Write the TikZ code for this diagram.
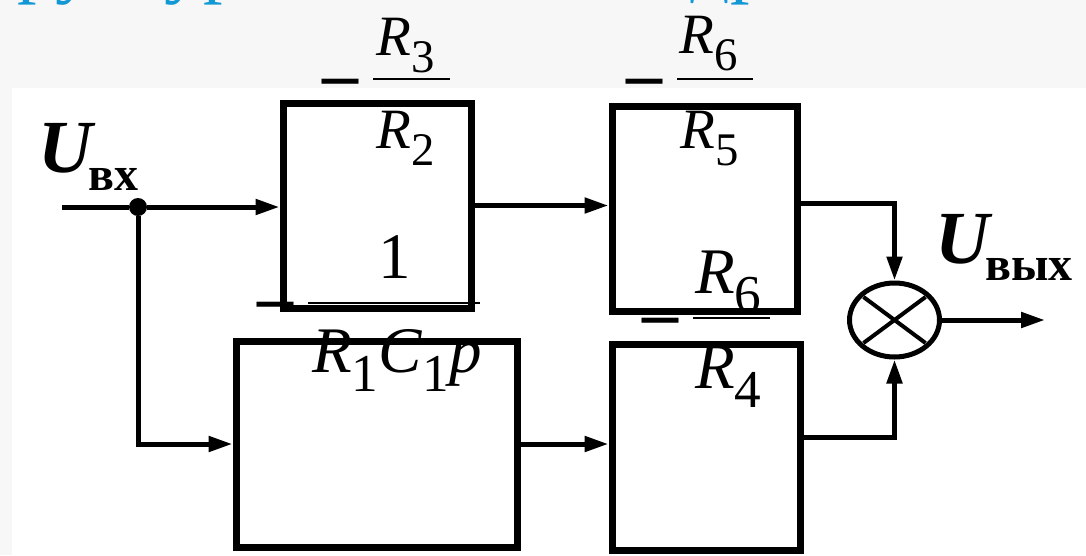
\documentclass[tikz,border=0pt]{standalone}
\usepackage{fontspec}
\setmainfont{Liberation Serif}
\usetikzlibrary{arrows.meta,shapes.geometric}
\tikzset{>={Triangle[length=24pt,width=15pt]}}
\definecolor{titleblue}{RGB}{18,152,213}

\newcommand\fs[1]{\fontsize{#1}{#1}\selectfont}
\newcommand\low[1]{\raisebox{-.3em}{\scalebox{.82}{#1}}}

\begin{document}
\begin{tikzpicture}[x=1pt,y=-1pt,
    block/.style={draw,line width=7pt,inner sep=0pt,minimum height=205pt},
    wire/.style={line width=5pt},
    lbl/.style={inner sep=0pt,anchor=base west},
    minus/.style={inner sep=0pt,anchor=base,font=\bfseries\fs{72}},
    bar/.style={line width=2pt}]

  % page
  \useasboundingbox (0,0) rectangle (1086,555);
  \clip (0,0) rectangle (1086,555);
  \fill[black!3] (0,0) rectangle (1086,555);
  \fill[white] (12,88) rectangle (1086,555);

  % title line (only its lower edge is on the page)
  \node[lbl,text=titleblue,font=\fs{78}] (title) at (-69,-12)
    {Структурная схема изодромного звена};

  % gains
  \node[minus] (mA) at (340,98) {–};
  \draw[bar] (373,79) -- (450,79);
  \node[lbl,font=\fs{57}] (r3) at (376,55) {\textit{R}\low{3}};
  \node[lbl,font=\fs{57}] (r2) at (376,148) {\textit{R}\low{2}};

  \node[minus] (mB) at (644,98) {–};
  \draw[bar] (677,79) -- (753,79);
  \node[lbl,font=\fs{57}] (r6a) at (679,53) {\textit{R}\low{6}};
  \node[lbl,font=\fs{57}] (r5) at (680,148) {\textit{R}\low{5}};

  \node[minus] (mC) at (275,321) {–};
  \draw[bar] (308,302.5) -- (480,302.5);
  \node[lbl,font=\fs{65}] (one) at (378,278) {1};
  \node[lbl,font=\fs{65}] (rc) at (312,372) {\textit{R}\low{1}\textit{C}\low{1}\textit{p}};

  \node[minus] (mD) at (660,337) {–};
  \draw[bar] (693,318) -- (770,318);
  \node[lbl,font=\fs{65}] (r6b) at (695,293) {\textit{R}\low{6}};
  \node[lbl,font=\fs{65}] (r4) at (695,388) {\textit{R}\low{4}};

  % signals
  \node[lbl,font=\bfseries\itshape\fs{75}] (uin) at (38,172) {U};
  \node[lbl,font=\bfseries\fs{48}] (uinsub) at (88,190) {вх};
  \node[lbl,font=\bfseries\itshape\fs{75}] (uout) at (935,263) {U};
  \node[lbl,font=\bfseries\fs{48}] (uoutsub) at (985,280) {вых};

  % blocks
  \node[block,minimum width=188pt] (prop) at (377,205.5) {};
  \node[block,minimum width=185pt] (gainA) at (704.5,208.5) {};
  \node[block,minimum width=281pt,minimum height=206pt] (integ) at (376.5,444) {};
  \node[block,minimum width=188pt,minimum height=206pt] (gainB) at (706,447) {};

  % summing junction
  \node[draw,ellipse,line width=5pt,inner sep=0pt,
        minimum width=90pt,minimum height=74pt] (sum) at (894.5,320) {};
  \draw[line width=4pt] ([shift={(-31,-23)}]sum.center) -- ([shift={(31,23)}]sum.center);
  \draw[line width=4pt] ([shift={(-31,23)}]sum.center) -- ([shift={(31,-23)}]sum.center);

  % wires
  \coordinate (in) at (62,207);
  \node[circle,fill,inner sep=0pt,minimum size=18pt] (tap) at (138,207) {};
  \draw[wire] (in) -- (tap);
  \draw[wire,->] (tap) -- (tap -| prop.west);
  \draw[wire,->] (tap) |- (integ.west);
  \draw[wire,->] (prop.east) -- (prop.east -| gainA.west);
  \draw[wire,->] (integ.east) -- (integ.east -| gainB.west);
  \coordinate (aout) at ([yshift=5pt]gainA.east);
  \coordinate (bout) at ([yshift=10pt]gainB.east);
  \draw[wire,->] (aout) -| (sum.north);
  \draw[wire,->] (bout) -| (sum.south);
  \coordinate (out) at (1045,320);
  \draw[wire,->] (sum.east) -- (out);

\end{tikzpicture}
\end{document}
